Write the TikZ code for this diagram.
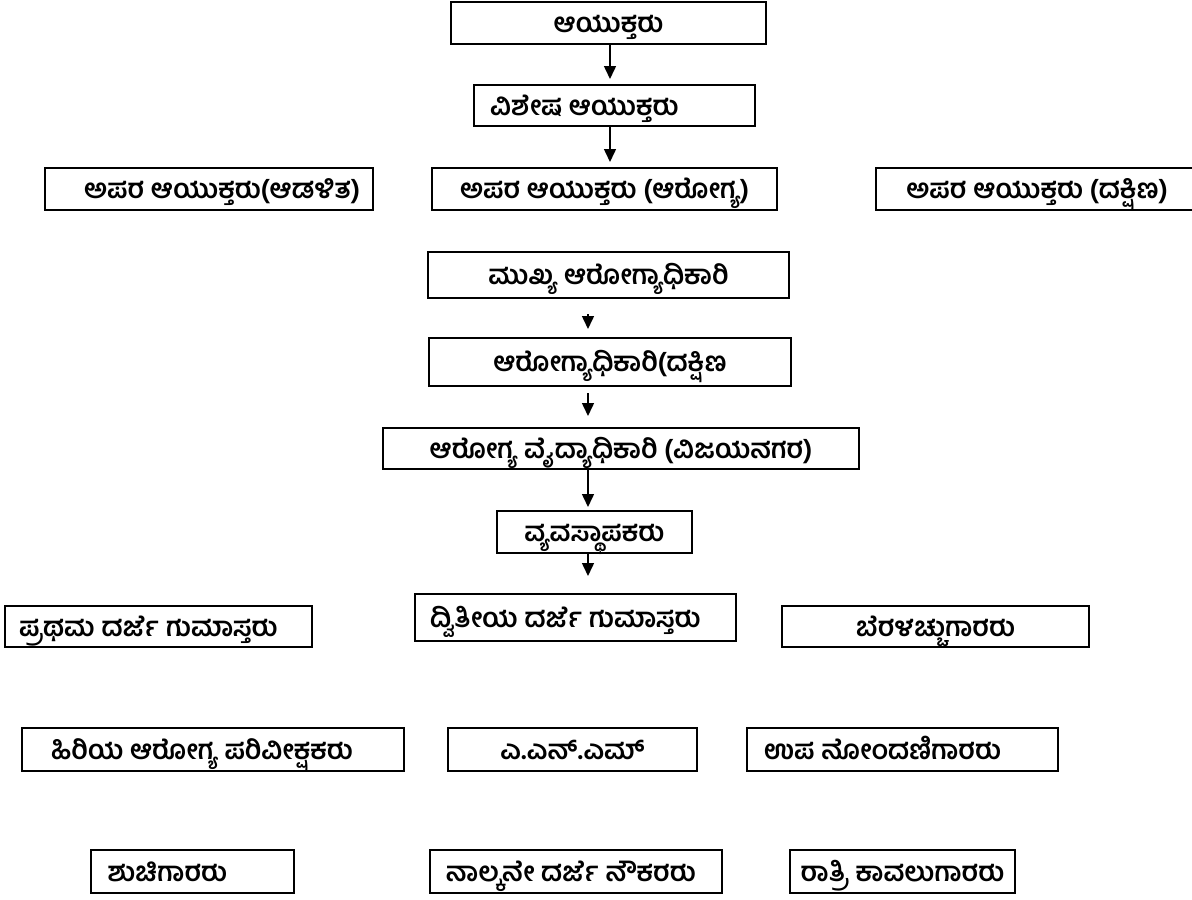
\documentclass[tikz,border=0pt]{standalone}
\usepackage{fontspec}
\newfontfamily\kn[Script=Kannada]{Hind Mysuru}
\usetikzlibrary{arrows.meta,calc}
\newcommand\kpre[1]{\hspace*{#1}}
\begin{document}
\begin{tikzpicture}[x=1pt,y=-1pt,
  box/.style={draw, line width=2pt, inner sep=0pt, text height=19pt, text depth=0pt,
    font=\kn\bfseries\fontsize{27}{30}\selectfont},
  arr/.style={line width=1.5pt, -{Triangle[width=12pt,length=13pt]}}]
\useasboundingbox (0,0) rectangle (1192,900);
\node[box, minimum width=315pt, minimum height=42pt] (A) at (608.5,23) {ಆಯುಕ್ತರು};
\node[box, minimum width=281pt, minimum height=41pt] (B) at (614.5,105.5) {ವಿಶೇಷ ಆಯುಕ್ತರು\kpre{60pt}};
\node[box, minimum width=328pt, minimum height=42pt] (C1) at (209,189) {\kpre{26pt}ಅಪರ ಆಯುಕ್ತರು(ಆಡಳಿತ)};
\node[box, minimum width=345pt, minimum height=42pt] (C2) at (604.5,189) {ಅಪರ ಆಯುಕ್ತರು (ಆರೋಗ್ಯ)};
\node[box, minimum width=322pt, minimum height=42pt] (C3) at (1037,189) {ಅಪರ ಆಯುಕ್ತರು (ದಕ್ಷಿಣ)};
\node[box, minimum width=361pt, minimum height=46pt] (D) at (608.5,275) {ಮುಖ್ಯ ಆರೋಗ್ಯಾಧಿಕಾರಿ};
\node[box, minimum width=362pt, minimum height=48pt] (E) at (610,362) {ಆರೋಗ್ಯಾಧಿಕಾರಿ(ದಕ್ಷಿಣ};
\node[box, minimum width=476pt, minimum height=41pt] (F) at (621,448.5) {ಆರೋಗ್ಯ ವೈದ್ಯಾಧಿಕಾರಿ (ವಿಜಯನಗರ)};
\node[box, minimum width=195pt, minimum height=42pt] (G) at (594.5,532) {ವ್ಯವಸ್ಥಾಪಕರು};
\node[box, minimum width=307pt, minimum height=41pt] (H1) at (158.5,626.5) {ಪ್ರಥಮ ದರ್ಜೆ ಗುಮಾಸ್ತರು\kpre{20pt}};
\node[box, minimum width=321pt, minimum height=47pt] (H2) at (575.5,617.5) {ದ್ವಿತೀಯ ದರ್ಜೆ ಗುಮಾಸ್ತರು\kpre{20pt}};
\node[box, minimum width=307pt, minimum height=41pt] (H3) at (935.5,626.5) {ಬೆರಳಚ್ಚುಗಾರರು};
\node[box, minimum width=382pt, minimum height=43pt] (I1) at (213,749.5) {ಹಿರಿಯ ಆರೋಗ್ಯ ಪರಿವೀಕ್ಷಕರು\kpre{22pt}};
\node[box, minimum width=249pt, minimum height=43pt] (I2) at (572.5,749.5) {ಎ.ಎನ್.ಎಮ್};
\node[box, minimum width=311pt, minimum height=43pt] (I3) at (902.5,749.5) {ಉಪ ನೋಂದಣಿಗಾರರು\kpre{40pt}};
\node[box, minimum width=203pt, minimum height=43pt] (J1) at (192.5,871.5) {ಶುಚಿಗಾರರು\kpre{50pt}};
\node[box, minimum width=292pt, minimum height=43pt] (J2) at (576,871.5) {ನಾಲ್ಕನೇ ದರ್ಜೆ ನೌಕರರು\kpre{10pt}};
\node[box, minimum width=225pt, minimum height=43pt] (J3) at (902.5,871.5) {ರಾತ್ರಿ ಕಾವಲುಗಾರರು};
\coordinate (xa) at (610,0);
\coordinate (xb) at (588,0);
\draw[arr, shorten >=5pt] (A.south -| xa) -- (B.north -| xa);
\draw[arr, shorten >=5pt] (B.south -| xa) -- (C2.north -| xa);
\draw[arr, shorten <=15pt, shorten >=8pt] (D.south -| xb) -- (E.north -| xb);
\draw[arr, shorten <=6pt, shorten >=11pt] (E.south -| xb) -- (F.north -| xb);
\draw[arr, shorten >=3pt] (F.south -| xb) -- (G.north -| xb);
\draw[arr, shorten >=17pt] (G.south -| xb) -- (H2.north -| xb);
\end{tikzpicture}
\end{document}
